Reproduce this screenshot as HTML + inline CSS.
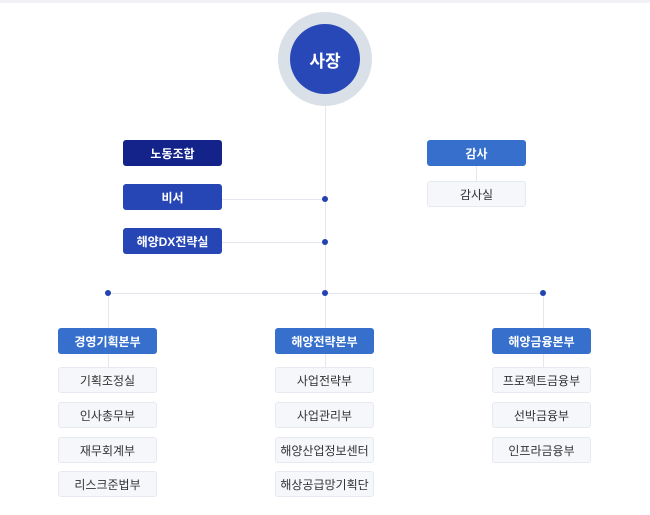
<!DOCTYPE html>
<html><head><meta charset="utf-8"><style>
body{margin:0;width:650px;height:515px;background:#fff;position:relative;overflow:hidden;font-family:"Liberation Sans","Noto Sans CJK KR",sans-serif}
.b{position:absolute;width:99px;height:26px;box-sizing:border-box;border-radius:3px;display:flex;align-items:center;justify-content:center;font-size:12px}
.h{color:#fff;font-weight:bold;background:#3670cc}
.s{background:#f5f7fa;border:1px solid #e6eaf0;color:#333}
.l{position:absolute;background:#e4e8ee}
.d{position:absolute;width:6px;height:6px;border-radius:50%;background:#2443b3}
</style></head><body>
<div style="position:absolute;left:0;top:0;width:650px;height:3px;background:#f0f2f5"></div>
<div class="l" style="left:325px;top:100px;width:1px;height:193px"></div>
<div class="l" style="left:108px;top:293px;width:435px;height:1px"></div>
<div class="l" style="left:222px;top:199px;width:103px;height:1px"></div>
<div class="l" style="left:222px;top:242px;width:103px;height:1px"></div>
<div class="l" style="left:476px;top:166px;width:1px;height:15px"></div>
<div class="l" style="left:108px;top:293px;width:1px;height:80px"></div>
<div class="l" style="left:325px;top:293px;width:1px;height:80px"></div>
<div class="l" style="left:543px;top:293px;width:1px;height:80px"></div>
<div style="position:absolute;left:278px;top:12px;width:94px;height:94px;border-radius:50%;background:#d9e0e8"></div>
<div style="position:absolute;left:290px;top:24px;width:70px;height:70px;border-radius:50%;background:#2748b6;color:#fff;font-weight:bold;font-size:17px;display:flex;align-items:center;justify-content:center">사장</div>
<div class="d" style="left:322px;top:196px"></div>
<div class="d" style="left:322px;top:239px"></div>
<div class="d" style="left:105px;top:290px"></div>
<div class="d" style="left:322px;top:290px"></div>
<div class="d" style="left:540px;top:290px"></div>
<div class="b h" style="left:123px;top:140px;background:#13238a">노동조합</div>
<div class="b h" style="left:123px;top:184px;background:#2646b5">비서</div>
<div class="b h" style="left:123px;top:228px;background:#2646b5">해양DX전략실</div>
<div class="b h" style="left:427px;top:140px">감사</div>
<div class="b s" style="left:427px;top:181px">감사실</div>
<div class="b h" style="left:58px;top:328px">경영기획본부</div>
<div class="b s" style="left:58px;top:367px">기획조정실</div>
<div class="b s" style="left:58px;top:402px">인사총무부</div>
<div class="b s" style="left:58px;top:437px">재무회계부</div>
<div class="b s" style="left:58px;top:471px">리스크준법부</div>
<div class="b h" style="left:275px;top:328px">해양전략본부</div>
<div class="b s" style="left:275px;top:367px">사업전략부</div>
<div class="b s" style="left:275px;top:402px">사업관리부</div>
<div class="b s" style="left:275px;top:437px">해양산업정보센터</div>
<div class="b s" style="left:275px;top:471px">해상공급망기획단</div>
<div class="b h" style="left:492px;top:328px">해양금융본부</div>
<div class="b s" style="left:492px;top:367px">프로젝트금융부</div>
<div class="b s" style="left:492px;top:402px">선박금융부</div>
<div class="b s" style="left:492px;top:437px">인프라금융부</div>
</body></html>
